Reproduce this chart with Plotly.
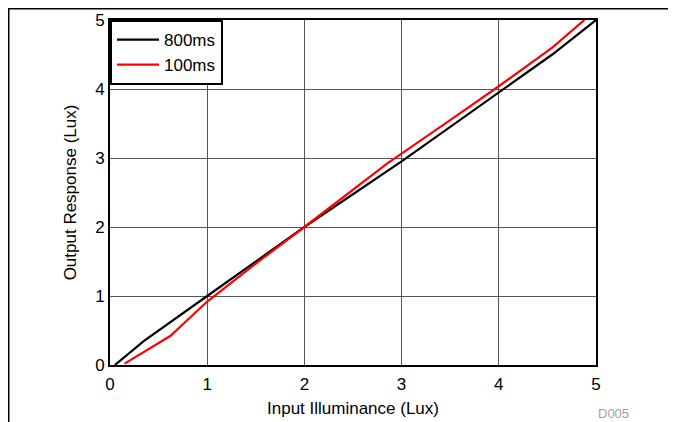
import plotly.graph_objects as go

x_800 = [0.05, 0.35, 1.0, 2.0, 3.0, 4.0, 4.55, 5.0]
y_800 = [0.0, 0.35, 1.0, 2.0, 2.95, 3.95, 4.5, 5.0]

x_100 = [0.15, 0.62, 1.0, 1.5, 2.0, 2.85, 3.5, 4.0, 4.55, 4.88]
y_100 = [0.02, 0.42, 0.92, 1.47, 2.0, 2.92, 3.55, 4.04, 4.6, 5.0]

ticks = [0, 1, 2, 3, 4, 5]
FONT = "Liberation Sans, Arial, sans-serif"

fig = go.Figure()
fig.add_trace(go.Scatter(x=x_800, y=y_800, mode="lines", name="800ms",
                         line=dict(color="black", width=2.2)))
fig.add_trace(go.Scatter(x=x_100, y=y_100, mode="lines", name="100ms",
                         line=dict(color="#ff0000", width=2.2)))

# page is offset by the 8px body margin
W, H = 668, 414
L, T = 102, 12
pw, ph = 486, 345
R = W - L - pw
B = H - T - ph

def px(x):
    return (x - L) / pw

def py(y):
    return (H - B - y) / ph

fig.update_layout(
    template="none",
    width=W, height=H,
    margin=dict(l=L, r=R, t=T, b=B, autoexpand=False),
    paper_bgcolor="white", plot_bgcolor="white",
    font=dict(family=FONT, size=17, color="black"),
    showlegend=True,
    legend=dict(x=0, y=1, xanchor="left", yanchor="top",
                bordercolor="black", borderwidth=2, bgcolor="white",
                font=dict(size=17), tracegroupgap=0, itemwidth=42,
                entrywidth=72, entrywidthmode="pixels"),
    xaxis=dict(range=[0, 5], tickvals=ticks, showgrid=True, gridcolor="#555555",
               gridwidth=1, zeroline=False, showline=True, linecolor="black",
               linewidth=2, mirror=True, ticks="", ticklen=0, automargin=False,
               ticklabelstandoff=3,
               title=dict(text="Input Illuminance (Lux)", standoff=9,
                          font=dict(size=17)),
               tickfont=dict(size=17)),
    yaxis=dict(range=[0, 5], tickvals=ticks, showgrid=True, gridcolor="#555555",
               gridwidth=1, zeroline=False, showline=True, linecolor="black",
               linewidth=2, mirror=True, ticks="", ticklen=0, automargin=False,
               title=dict(text="Output Response (Lux)", standoff=14,
                          font=dict(size=17)),
               tickfont=dict(size=17)),
    shapes=[
        dict(type="line", xref="paper", yref="paper",
             x0=px(0), x1=px(W), y0=py(0.75), y1=py(0.75),
             line=dict(color="black", width=1.5)),
        dict(type="line", xref="paper", yref="paper",
             x0=px(0.75), x1=px(0.75), y0=py(0), y1=py(H),
             line=dict(color="black", width=1.5)),
    ],
    annotations=[
        dict(text="D005", xref="paper", yref="paper", x=px(605), y=py(405),
             xanchor="center", yanchor="middle",
             showarrow=False, font=dict(size=13, color="#a0a0a0", family=FONT)),
    ],
)

fig.write_html("out.html")
